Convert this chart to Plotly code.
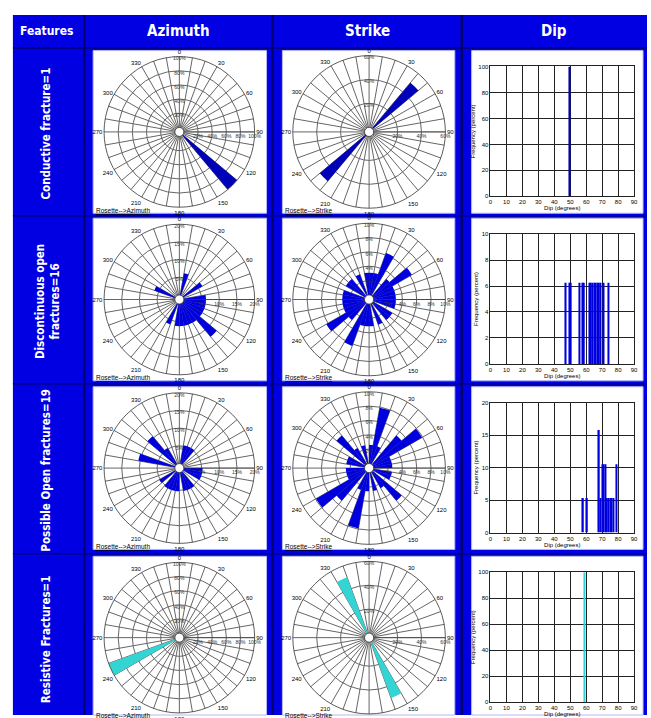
import plotly.graph_objects as go

W, H = 651, 718

# ---------------- data ----------------
col_headers = ["Features", "Azimuth", "Strike", "Dip"]
row_labels = ["Conductive fracture=1", "Discontinuous open<br>fractures=16",
              "Possible Open fractures=19", "Resistive Fractures=1"]
rose_az_title = "Rosette-->Azimuth"
rose_st_title = "Rosette-->Strike"
dip_xtitle = "Dip (degrees)"
dip_ytitle = "Frequency (percent)"

angle_tickvals = list(range(0, 360, 10))
angle_ticktext = ["0", "", "", "30", "", "", "60", "", "", "90", "", "", "120", "", "",
                  "150", "", "", "180", "", "", "210", "", "", "240", "", "", "270", "", "",
                  "300", "", "", "330", "", ""]
dip_xticks = [0, 10, 20, 30, 40, 50, 60, 70, 80, 90]

# Row 1 - Conductive fracture (1)
az1_theta = [135]
az1_pct = [100]
az1_rticks = [20, 40, 60, 80, 100]
st1_theta = [45, 225]
st1_pct = [50, 50]
st1_rticks = [20, 40, 60]
dip1_deg = [49.5]
dip1_pct = [100]
dip1_yticks = [0, 20, 40, 60, 80, 100]

# Row 2 - Discontinuous open fractures (16)
az2_theta = [15, 55, 85, 95, 105, 115, 125, 135, 145, 155, 165, 175, 185, 205, 295]
az2_pct = [6.25, 6.25, 6.25, 6.25, 6.25, 6.25, 6.25, 12.5, 6.25, 6.25, 6.25, 6.25, 6.25, 6.25, 6.25]
az2_rticks = [5, 10, 15, 20]
st2_theta = [5, 15, 25, 45, 55, 65, 75, 85, 95, 105, 125, 135, 155, 175,
             185, 195, 205, 225, 235, 245, 255, 265, 275, 285, 305, 315, 335, 355]
st2_pct = [3.1, 3.1, 6.25, 3.1, 6.25, 3.1, 3.1, 3.1, 3.1, 3.1, 3.1, 3.1, 3.1, 3.1,
           3.1, 3.1, 6.25, 3.1, 6.25, 3.1, 3.1, 3.1, 3.1, 3.1, 3.1, 3.1, 3.1, 3.1]
st2_rticks = [2, 4, 6, 8, 10]
dip2_deg = [47.2, 49.6, 50.4, 55.9, 57.8, 58.6, 62, 63, 64, 65, 66, 67, 68, 69, 71, 73.8]
dip2_pct = [6.25] * 16
dip2_yticks = [0, 2, 4, 6, 8, 10]

# Row 3 - Possible open fractures (19)
az3_theta = [15, 25, 35, 95, 105, 115, 145, 155, 165, 185, 195, 205, 215, 235, 285, 315, 325]
az3_pct = [5.3, 5.3, 5.3, 5.3, 5.3, 5.3, 5.3, 5.3, 5.3, 5.3, 5.3, 5.3, 5.3, 5.3, 10.5, 10.5, 5.3]
az3_rticks = [5, 10, 15, 20]
st3_theta = [5, 15, 25, 45, 55, 65, 75, 85, 105, 115, 135, 145, 165,
             185, 195, 205, 225, 235, 245, 255, 265, 285, 295, 315, 325, 345]
st3_pct = [2.6, 7.9, 2.6, 5.3, 7.9, 2.6, 2.6, 2.6, 2.6, 2.6, 5.3, 2.6, 2.6,
           2.6, 7.9, 2.6, 5.3, 7.9, 2.6, 2.6, 2.6, 2.6, 2.6, 5.3, 2.6, 2.6]
st3_rticks = [2, 4, 6, 8, 10]
dip3_deg = [58, 60.5, 68, 69, 70, 71, 72, 73, 74, 75, 76, 77, 79]
dip3_pct = [5.3, 5.3, 15.8, 5.3, 10.5, 10.5, 10.5, 5.3, 5.3, 5.3, 5.3, 5.3, 10.5]
dip3_yticks = [0, 5, 10, 15, 20]

# Row 4 - Resistive fractures (1)
az4_theta = [245]
az4_pct = [100]
az4_rticks = [20, 40, 60, 80, 100]
st4_theta = [155, 335]
st4_pct = [50, 50]
st4_rticks = [20, 40, 60]
dip4_deg = [59]
dip4_pct = [100]
dip4_yticks = [0, 20, 40, 60, 80, 100]

rows = [
    dict(az_t=az1_theta, az_r=az1_pct, az_ticks=az1_rticks, st_t=st1_theta, st_r=st1_pct,
         st_ticks=st1_rticks, dx=dip1_deg, dy=dip1_pct, dticks=dip1_yticks, color="#0000b8"),
    dict(az_t=az2_theta, az_r=az2_pct, az_ticks=az2_rticks, st_t=st2_theta, st_r=st2_pct,
         st_ticks=st2_rticks, dx=dip2_deg, dy=dip2_pct, dticks=dip2_yticks, color="#0000dd"),
    dict(az_t=az3_theta, az_r=az3_pct, az_ticks=az3_rticks, st_t=st3_theta, st_r=st3_pct,
         st_ticks=st3_rticks, dx=dip3_deg, dy=dip3_pct, dticks=dip3_yticks, color="#0000dd"),
    dict(az_t=az4_theta, az_r=az4_pct, az_ticks=az4_rticks, st_t=st4_theta, st_r=st4_pct,
         st_ticks=st4_rticks, dx=dip4_deg, dy=dip4_pct, dticks=dip4_yticks, color="#33d4d4"),
]

# ---------------- style / layout ----------------
BLUE = "#0000e2"
DARK = "#00006e"
HEAD_FONT = "Liberation Sans Narrow, DejaVu Sans Condensed, DejaVu Sans, sans-serif"
SMALL_FONT = "Liberation Sans, Arial, sans-serif"

row_tops = [48, 217, 387, 558]
AZ_CX, ST_CX = 179, 370.5
R_AZ, R_ST = 76, 77
BOX_AZ = (92, 267)
BOX_ST = (283, 457)
BOX_DIP = (474, 647)
DIP_X = (493, 638)


def fx(x):
    return x / W


def fy(y):
    return 1 - y / H


def pid(n):
    return "polar" if n == 1 else f"polar{n}"


shapes = []
annotations = []

# table background
shapes.append(dict(type="rect", xref="paper", yref="paper", layer="below",
                   x0=fx(11), x1=fx(651), y0=fy(718), y1=fy(12),
                   fillcolor=BLUE, line=dict(width=0)))
for xv in [83, 273, 464]:
    shapes.append(dict(type="line", xref="paper", yref="paper", layer="below",
                       x0=fx(xv), x1=fx(xv), y0=fy(718), y1=fy(12),
                       line=dict(color=DARK, width=2.5)))
for yv in [45.5, 214.5, 384, 555.5]:
    shapes.append(dict(type="line", xref="paper", yref="paper", layer="below",
                       x0=fx(11), x1=fx(651), y0=fy(yv), y1=fy(yv),
                       line=dict(color=DARK, width=1.5)))

# headers
header_x = [45, 178, 369, 557]
header_size = [12, 15, 15, 15]
for txt, xv, sz in zip(col_headers, header_x, header_size):
    annotations.append(dict(text=f"<b>{txt}</b>", x=fx(xv), y=fy(28.5), xref="paper", yref="paper",
                            showarrow=False, xanchor="center", yanchor="middle",
                            font=dict(family=HEAD_FONT, size=sz, color="white")))

row_label_x = [44, 46, 44, 44]
fig = go.Figure()
layout = {}

for i, row in enumerate(rows):
    top = row_tops[i]
    bot = top + 164
    cy = top + 82
    # white boxes
    for (a, b) in [BOX_AZ, BOX_ST, BOX_DIP]:
        shapes.append(dict(type="rect", xref="paper", yref="paper", layer="below",
                           x0=fx(a), x1=fx(b), y0=fy(min(bot, 718)), y1=fy(top),
                           fillcolor="white", line=dict(color="#b8b8f0", width=1)))
    # row label
    annotations.append(dict(text=f"<b>{row_labels[i]}</b>", x=fx(row_label_x[i]), y=fy(cy + 2),
                            xref="paper", yref="paper", showarrow=False, textangle=-90,
                            xanchor="center", yanchor="middle",
                            font=dict(family=HEAD_FONT, size=11.5, color="white")))
    # rosette titles
    for xv, t in [(BOX_AZ[0] + 1, rose_az_title), (BOX_ST[0] + 1, rose_st_title)]:
        annotations.append(dict(text=f"<u>{t}</u>", x=fx(xv), y=fy(top + 161), xref="paper", yref="paper",
                                showarrow=False, xanchor="left", yanchor="middle",
                                font=dict(family=SMALL_FONT, size=6.5, color="black")))

    for k, (cx, r, th, rv, rt) in enumerate([(AZ_CX, R_AZ, row["az_t"], row["az_r"], row["az_ticks"]),
                                              (ST_CX, R_ST, row["st_t"], row["st_r"], row["st_ticks"])]):
        n = 2 * i + k + 1
        sp = pid(n)
        fig.add_trace(go.Barpolar(r=rv, theta=th, width=[10] * len(th), subplot=sp,
                                  marker=dict(color=row["color"], line=dict(width=0)),
                                  showlegend=False, hoverinfo="skip"))
        fig.add_trace(go.Scatterpolar(r=rt, theta=[0] * len(rt), mode="text",
                                      text=[f"{t}%" for t in rt], subplot=sp,
                                      textposition="bottom center",
                                      textfont=dict(size=5, color="#333", family=SMALL_FONT),
                                      showlegend=False, hoverinfo="skip"))
        layout[sp] = dict(
            domain=dict(x=[fx(cx - r), fx(cx + r)], y=[fy(cy + r), fy(cy - r)]),
            bgcolor="white", hole=0.06,
            angularaxis=dict(rotation=90, direction="clockwise", tickmode="array",
                             tickvals=angle_tickvals, ticktext=angle_ticktext, ticks="",
                             showline=True, linecolor="#333", linewidth=0.8,
                             gridcolor="#666", gridwidth=0.5,
                             tickfont=dict(size=6, color="black", family=SMALL_FONT)),
            radialaxis=dict(range=[0, rt[-1]], tickmode="array", tickvals=rt,
                            ticktext=[f"{t}%" for t in rt], angle=0, tickangle=0, ticks="",
                            showline=True, linecolor="#333", linewidth=0.6,
                            gridcolor="#666", gridwidth=0.5,
                            tickfont=dict(size=5, color="#333", family=SMALL_FONT)),
        )

    # dip histogram
    xa = "x" if i == 0 else f"x{i + 1}"
    ya = "y" if i == 0 else f"y{i + 1}"
    fig.add_trace(go.Bar(x=row["dx"], y=row["dy"], width=0.9, xaxis=xa, yaxis=ya,
                         marker=dict(color=row["color"], line=dict(width=0)),
                         showlegend=False, hoverinfo="skip"))
    xkey = "xaxis" if i == 0 else f"xaxis{i + 1}"
    ykey = "yaxis" if i == 0 else f"yaxis{i + 1}"
    layout[xkey] = dict(domain=[fx(DIP_X[0]), fx(DIP_X[1])], anchor=ya, range=[0, 90],
                        tickmode="array", tickvals=dip_xticks, ticks="",
                        showgrid=True, gridcolor="#222", gridwidth=0.6, zeroline=False,
                        showline=True, mirror=True, linecolor="#222", linewidth=0.8,
                        tickfont=dict(size=6, color="black", family=SMALL_FONT),
                        title=dict(text=dip_xtitle, standoff=1,
                                   font=dict(size=6, color="black", family=SMALL_FONT)))
    layout[ykey] = dict(domain=[fy(top + 147), fy(top + 16)], anchor=xa, range=[0, row["dticks"][-1]],
                        tickmode="array", tickvals=row["dticks"], ticks="",
                        showgrid=True, gridcolor="#222", gridwidth=0.6, zeroline=False,
                        showline=True, mirror=True, linecolor="#222", linewidth=0.8,
                        tickfont=dict(size=6, color="black", family=SMALL_FONT),
                        title=dict(text=dip_ytitle, standoff=2,
                                   font=dict(size=6, color="black", family=SMALL_FONT)))

fig.update_layout(
    width=W, height=H, margin=dict(l=0, r=0, t=0, b=0),
    paper_bgcolor="white", plot_bgcolor="white",
    shapes=shapes, annotations=annotations, showlegend=False,
    **layout,
)

fig.write_html("out.html", config={"displayModeBar": False},
               post_script="document.body.style.margin='0';document.body.style.overflow='hidden';")
